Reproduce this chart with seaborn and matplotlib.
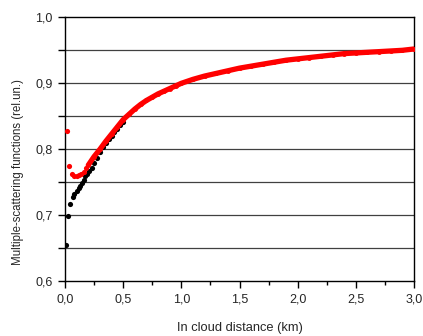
import numpy as np
import pandas as pd
import seaborn as sns
import matplotlib.pyplot as plt
from matplotlib.ticker import MultipleLocator, FuncFormatter

# values
black_x = [0.009, 0.028, 0.046, 0.065, 0.080, 0.100, 0.117, 0.130, 0.146, 0.160,
           0.175, 0.190, 0.209, 0.230, 0.250, 0.275, 0.300, 0.325, 0.350, 0.375,
           0.400, 0.425, 0.450, 0.475, 0.500]
black_y = [0.655, 0.699, 0.717, 0.727, 0.732, 0.737, 0.741, 0.745, 0.749, 0.754,
           0.759, 0.763, 0.767, 0.772, 0.779, 0.787, 0.796, 0.803, 0.809, 0.815,
           0.820, 0.826, 0.831, 0.837, 0.842]

red_near_x = [0.014, 0.037, 0.060, 0.080, 0.100, 0.120, 0.140, 0.160, 0.180]
red_near_y = [0.8275, 0.774, 0.763, 0.760, 0.760, 0.761, 0.763, 0.766, 0.771]

red_x = [0.20, 0.25, 0.30, 0.35, 0.40, 0.45, 0.50, 0.55, 0.60, 0.65, 0.70, 0.75,
         0.80, 0.85, 0.90, 0.95, 1.00, 1.10, 1.20, 1.30, 1.40, 1.50, 1.60, 1.70,
         1.80, 1.90, 2.00, 2.10, 2.20, 2.30, 2.40, 2.50, 2.60, 2.70, 2.80, 2.90, 3.00]
red_y = [0.776, 0.789, 0.800, 0.812, 0.823, 0.834, 0.845, 0.853, 0.861, 0.868, 0.874, 0.879,
         0.884, 0.888, 0.892, 0.896, 0.900, 0.906, 0.911, 0.915, 0.919, 0.923, 0.926, 0.929,
         0.932, 0.935, 0.937, 0.939, 0.941, 0.943, 0.945, 0.946, 0.947, 0.948, 0.949, 0.950, 0.952]

sns.set_style("ticks")
plt.rcParams['font.family'] = ['Liberation Sans', 'DejaVu Sans']

fig = plt.figure(figsize=(4.23, 3.36), dpi=100)
ax = fig.add_axes([0.1537, 0.1628, 0.825, 0.7857])

for yy in np.arange(0.65, 1.0, 0.05):
    ax.axhline(yy, color='0.25', lw=0.9, zorder=0)

blk = pd.DataFrame({'x': black_x, 'y': black_y})
sns.scatterplot(data=blk, x='x', y='y', color='black', s=14, linewidth=0, ax=ax, zorder=2)

rn = pd.DataFrame({'x': red_near_x, 'y': red_near_y})
sns.scatterplot(data=rn, x='x', y='y', color='#ff0000', s=14, linewidth=0, ax=ax, zorder=3)

rf = pd.DataFrame({'x': red_x, 'y': red_y})
sns.lineplot(data=rf, x='x', y='y', color='#ff0000', lw=3.8, marker='o', markersize=3.5,
             markeredgewidth=0, ax=ax, zorder=3)

ax.set_xlim(0, 3.0)
ax.set_ylim(0.6, 1.0)
ax.xaxis.set_major_locator(MultipleLocator(0.5))
ax.xaxis.set_minor_locator(MultipleLocator(0.25))
ax.yaxis.set_major_locator(MultipleLocator(0.1))
ax.yaxis.set_minor_locator(MultipleLocator(0.05))
fmt = FuncFormatter(lambda v, p: f"{v:.1f}".replace('.', ','))
ax.xaxis.set_major_formatter(fmt)
ax.yaxis.set_major_formatter(fmt)
ax.tick_params(axis='both', which='major', direction='out', length=5, width=1,
               labelsize=9, color='black', pad=4)
ax.tick_params(axis='x', which='minor', direction='out', length=3, width=1, color='black')
ax.tick_params(axis='y', which='minor', direction='out', length=5, width=1, color='black')

for s in ax.spines.values():
    s.set_visible(True)
    s.set_color('black')
    s.set_linewidth(1)

ax.set_xlabel("In cloud distance (km)", fontsize=9.3, labelpad=12)
ax.set_ylabel("Multiple-scattering functions (rel.un.)", fontsize=8.3)
ax.yaxis.set_label_coords(-0.118, 0.414)

fig.savefig("out.png", dpi=100)
